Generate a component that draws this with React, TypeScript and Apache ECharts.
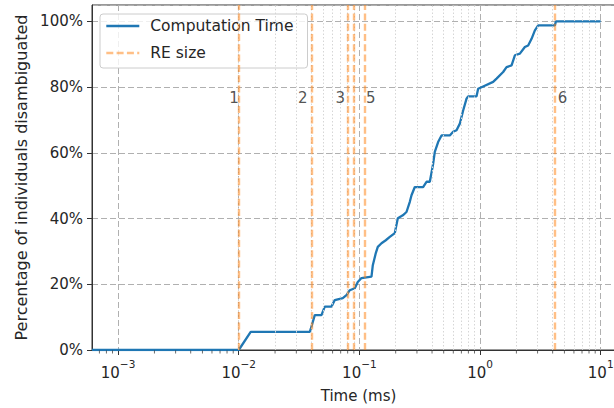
import React, { useEffect, useRef } from "react";
import * as echarts from "echarts";

// ---- data ----
const timeMs = [
  6.08e-4, 0.01, 0.01257, 0.03879, 0.03954, 0.04268, 0.04849, 0.05164, 0.0587, 0.06252,
  0.07284, 0.07816, 0.08326, 0.0916, 0.09698, 0.1041, 0.126, 0.1292, 0.1368, 0.1421,
  0.1525, 0.1655, 0.1787, 0.1966, 0.2082, 0.2291, 0.2457, 0.2618, 0.2704, 0.288,
  0.3374, 0.36, 0.3835, 0.4087, 0.4218, 0.4493, 0.4795, 0.5617, 0.5984, 0.6385,
  0.6801, 0.7245, 0.7729, 0.7967, 0.9354, 0.9643, 1.061, 1.284, 1.37, 1.554,
  1.659, 1.825, 1.944, 2.138, 2.352, 2.505, 2.673, 2.848, 3.032, 4.17, 4.25, 10,
];
const pctDisambiguated = [
  0, 0, 5.5, 5.5, 6.4, 10.6, 10.6, 13.2, 13.2, 15.2,
  15.8, 16.7, 18.2, 18.8, 20.7, 21.9, 22.3, 25.8, 29.5, 31.4,
  32.5, 33.4, 34.4, 35.6, 40.1, 41.0, 42.0, 45.1, 47.1, 49.6,
  49.6, 51.2, 51.2, 56.7, 60.3, 63.3, 65.3, 65.3, 66.4, 66.9,
  68.9, 72.9, 76.5, 77.2, 77.2, 79.5, 80.2, 81.6, 82.6, 84.6,
  86.1, 86.6, 89.7, 90.2, 92.2, 92.7, 94.7, 97.3, 98.8, 98.8, 100, 100,
];
const reSizeMs = [0.01059, 0.0393, 0.0806, 0.0946, 0.1073, 4.17];
const reSizeLabels = ["1", "2", "3", "", "5", "6"];
const yTicks = [0, 20, 40, 60, 80, 100];
const minorDecades = [-4, -3, -2, -1, 0, 1];
const minorMantissas = [2, 3, 4, 5, 6, 7, 8, 9];

const X_MIN = 6.08e-4;
const X_MAX = 15.9;
const Y_MAX = 105;
const LABEL_Y = 76.6;

const FONT = "DejaVu Sans";
const TXT = "#262626";
const BLUE = "#1f77b4";
const ORANGE = "rgba(255,127,14,0.5)";

export default function App() {
  const ref = useRef<HTMLDivElement>(null);
  useEffect(() => {
    if (!ref.current) return;
    const chart = echarts.init(ref.current, undefined, { renderer: "svg" });

    const minorVals: number[] = [];
    minorDecades.forEach((e) =>
      minorMantissas.forEach((m) => {
        const v = m * Math.pow(10, e);
        if (v > X_MIN && v < X_MAX) minorVals.push(v);
      })
    );

    const sup = (n: number) => (n < 0 ? "\u2212" + Math.abs(n) : String(n));

    const option: any = {
      animation: false,
      textStyle: { fontFamily: FONT },
      grid: {
        left: 92,
        top: 5,
        width: 533,
        height: 345,
        show: true,
        borderColor: "#333",
        borderWidth: 1,
        outerBoundsMode: "none",
        containLabel: false,
      },
      legend: {
        data: ["Computation Time", "RE size"],
        orient: "vertical",
        left: 100,
        top: 14,
        padding: [4, 14, 7, 5],
        itemWidth: 33,
        itemHeight: 14,
        itemGap: 11,
        backgroundColor: "rgba(255,255,255,0.8)",
        borderColor: "#cccccc",
        borderWidth: 1,
        borderRadius: 3,
        itemStyle: { opacity: 0 },
        lineStyle: { width: 2.6 },
        textStyle: {
          fontFamily: FONT,
          fontSize: 15.5,
          color: TXT,
          lineHeight: 14,
          padding: [0, 0, 0, 6],
        },
      },
      xAxis: {
        type: "log",
        logBase: 10,
        min: X_MIN,
        max: X_MAX,
        name: "Time (ms)",
        nameLocation: "middle",
        nameGap: 38,
        nameTextStyle: { fontFamily: FONT, fontSize: 15, color: TXT },
        axisLine: { show: true, onZero: false, lineStyle: { color: "#333", width: 1 } },
        axisTick: { show: true, length: 5, lineStyle: { color: "#333", width: 1 } },
        axisLabel: {
          showMinLabel: false,
          showMaxLabel: false,
          margin: 8,
          color: TXT,
          formatter: (v: number) => {
            const e = Math.round(Math.log10(v));
            return "{b|10}{s|" + sup(e) + "}";
          },
          rich: {
            b: { fontFamily: FONT, fontSize: 15, color: TXT, lineHeight: 22, verticalAlign: "bottom" },
            s: { fontFamily: FONT, fontSize: 10.5, color: TXT, lineHeight: 10, verticalAlign: "top" },
          },
        },
        splitLine: { show: true, lineStyle: { color: "#b0b0b0", type: [6, 3], width: 1 } },
      },
      yAxis: {
        type: "value",
        min: 0,
        max: Y_MAX,
        interval: 20,
        name: "Percentage of individuals disambiguated",
        nameLocation: "middle",
        nameGap: 62,
        nameRotate: 90,
        nameTextStyle: { fontFamily: FONT, fontSize: 16, color: TXT },
        axisLine: { show: true, lineStyle: { color: "#333", width: 1 } },
        axisTick: { show: true, length: 5, lineStyle: { color: "#333", width: 1 } },
        axisLabel: {
          showMaxLabel: false,
          margin: 9,
          fontFamily: FONT,
          fontSize: 15,
          color: TXT,
          formatter: (v: number) => (yTicks.indexOf(v) >= 0 ? v + "%" : ""),
        },
        splitLine: { show: true, lineStyle: { color: "#b0b0b0", type: [6, 3], width: 1 } },
      },
      series: [
        {
          name: "_minorGrid",
          type: "line",
          data: [],
          silent: true,
          z: 1,
          markLine: {
            silent: true,
            symbol: ["none", "none"],
            label: { show: false },
            emphasis: { disabled: true },
            lineStyle: { color: "#d6d6d6", type: [1.5, 2], width: 1 },
            data: minorVals.map((v) => ({ xAxis: v })),
          },
        },
        {
          name: "_minorTicks",
          type: "scatter",
          data: minorVals.map((v) => [v, 0]),
          symbol: "rect",
          symbolSize: [0.9, 3],
          symbolOffset: [0, 2],
          itemStyle: { color: "#333" },
          silent: true,
          clip: false,
          z: 6,
        },
        {
          name: "Computation Time",
          type: "line",
          data: timeMs.map((t, i) => [t, pctDisambiguated[i]]),
          symbol: "none",
          showSymbol: false,
          color: BLUE,
          lineStyle: { color: BLUE, width: 2.3 },
          z: 4,
        },
        {
          name: "RE size",
          type: "line",
          data: [],
          symbol: "none",
          showSymbol: false,
          color: ORANGE,
          lineStyle: { color: ORANGE, width: 2.4, type: [7, 3.3] },
          z: 5,
          markLine: {
            silent: true,
            symbol: ["none", "none"],
            label: { show: false },
            emphasis: { disabled: true },
            lineStyle: { color: ORANGE, width: 2.4, type: [7, 3.3] },
            data: reSizeMs.map((v) => ({ xAxis: v })),
          },
        },
        {
          name: "_reLabels",
          type: "scatter",
          symbolSize: 0,
          silent: true,
          z: 7,
          data: reSizeMs
            .map((v, i) => ({
              value: [v, LABEL_Y],
              name: reSizeLabels[i],
              label: { position: i < 3 ? "left" : "right" },
            }))
            .filter((d) => d.name !== ""),
          label: {
            show: true,
            distance: 3,
            fontFamily: FONT,
            fontSize: 15,
            color: TXT,
            formatter: (p: any) => p.name,
          },
        },
      ],
    };

    chart.setOption(option);
    return () => chart.dispose();
  }, []);

  return (
    <div
      ref={ref}
      style={{ position: "absolute", left: 0, top: 0, width: 614, height: 408 }}
    />
  );
}
